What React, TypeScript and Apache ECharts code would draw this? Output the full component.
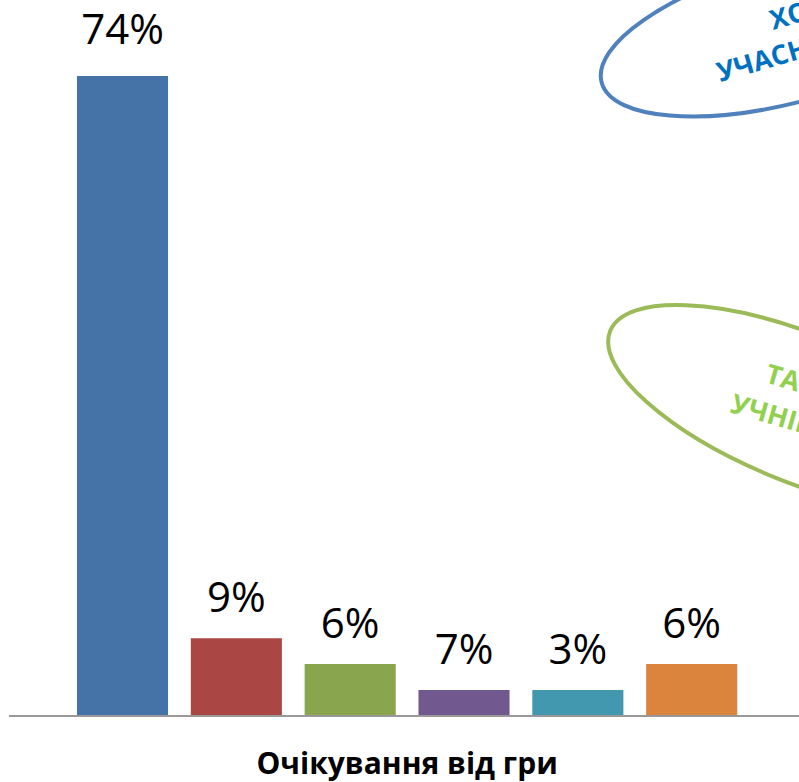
import React, { useEffect, useRef } from "react";
import * as echarts from "echarts";

const categories = ["1", "2", "3", "4", "5", "6"];
const barValues = [74, 9, 6, 3, 3, 6];
const valueLabels = ["74%", "9%", "6%", "7%", "3%", "6%"];
const barColors = ["#4572A7", "#AA4643", "#89A54E", "#71588F", "#4198AF", "#DB843D"];
const axisTitle = "Очікування від гри";
const blueNote = ["ХОЧУТЬ", "УЧАСНИКИ"];
const greenNote = ["ТАК", "УЧНІВ"];

export default function App() {
  const ref = useRef<HTMLDivElement>(null);
  useEffect(() => {
    const chart = echarts.init(ref.current!, undefined, { renderer: "svg" });
    const deg = Math.PI / 180;
    chart.setOption({
      animation: false,
      grid: { left: 65.6, right: 50.4, top: 24, bottom: 66, outerBoundsMode: "none", containLabel: false },
      xAxis: {
        type: "category",
        data: categories,
        axisLine: { show: false },
        axisTick: { show: false },
        axisLabel: { show: false },
        name: axisTitle,
        nameLocation: "middle",
        nameGap: 31,
        nameTextStyle: {
          fontFamily: "Open Sans",
          fontWeight: "bold",
          fontSize: 30,
          color: "#000",
        },
      },
      yAxis: {
        type: "value",
        min: 0,
        max: 80,
        show: false,
        splitLine: { show: false },
      },
      series: [
        {
          type: "bar",
          barCategoryGap: "20%",
          data: barValues.map((v, i) => ({
            value: v,
            itemStyle: { color: barColors[i] },
            label: { formatter: valueLabels[i], distance: i === 0 ? 27 : 22 },
          })),
          label: {
            show: true,
            position: "top",
            distance: 22,
            fontFamily: "Open Sans",
            fontSize: 42,
            color: "#000",
          },
        },
      ],
      graphic: [
        {
          type: "line",
          shape: { x1: 9, y1: 716, x2: 799, y2: 716 },
          style: { stroke: "#999999", lineWidth: 2 },
          z: 10,
        },
        {
          type: "ellipse",
          x: 790,
          y: 32,
          rotation: 15 * deg,
          shape: { cx: 0, cy: 0, rx: 195, ry: 70 },
          style: { fill: "none", stroke: "#4F81BD", lineWidth: 4 },
        },
        {
          type: "text",
          x: 770,
          y: 20,
          rotation: 16 * deg,
          style: {
            text: blueNote[0],
            fill: "#0070C0",
            font: "bold 27px 'Open Sans'",
            textAlign: "left",
            textVerticalAlign: "middle",
          },
        },
        {
          type: "text",
          x: 717,
          y: 72,
          rotation: 16 * deg,
          style: {
            text: blueNote[1],
            fill: "#0070C0",
            font: "bold 27px 'Open Sans'",
            textAlign: "left",
            textVerticalAlign: "middle",
          },
        },
        {
          type: "ellipse",
          x: 803,
          y: 409,
          rotation: -22 * deg,
          shape: { cx: 0, cy: 0, rx: 208, ry: 74 },
          style: { fill: "none", stroke: "#9BBB59", lineWidth: 4 },
        },
        {
          type: "text",
          x: 767,
          y: 372,
          rotation: -16 * deg,
          style: {
            text: greenNote[0],
            fill: "#92D050",
            font: "bold 27px 'Open Sans'",
            textAlign: "left",
            textVerticalAlign: "middle",
          },
        },
        {
          type: "text",
          x: 732,
          y: 402,
          rotation: -16 * deg,
          style: {
            text: greenNote[1],
            fill: "#92D050",
            font: "bold 27px 'Open Sans'",
            textAlign: "left",
            textVerticalAlign: "middle",
          },
        },
      ],
    });
    return () => chart.dispose();
  }, []);
  return (
    <div
      ref={ref}
      style={{ position: "fixed", left: 0, top: 0, width: 799, height: 782, background: "#fff" }}
    />
  );
}
